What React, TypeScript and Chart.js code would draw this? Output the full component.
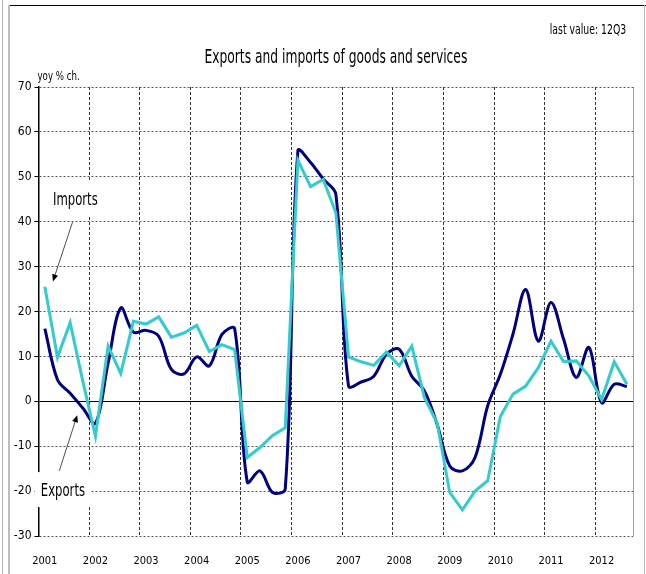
import React, { useEffect, useRef } from 'react';
import { Chart, registerables } from 'chart.js';

Chart.register(...registerables);

// ---- data ----
const years = ['2001', '2002', '2003', '2004', '2005', '2006', '2007', '2008', '2009', '2010', '2011', '2012'];
const quarterNames = ['Q1', 'Q2', 'Q3', 'Q4'];
const categories = years.flatMap((y) => quarterNames.map((q) => y + q)).slice(0, 47);

const exportsYoY = [
  16.2, 4.8, 1.8, -1.5, -4.9, 8.5, 20.8, 15.4,
  15.8, 14.5, 7.1, 6.1, 9.9, 7.9, 14.9, 16.2,
  -18.0, -15.5, -20.3, -19.5, 55.8, 53.2, 49.5, 46.1,
  3.4, 4.3, 5.6, 10.5, 11.6, 5.6, 2.3, -5.1,
  -14.4, -15.5, -12.5, -1.0, 6.0, 15.0, 24.9, 13.4,
  22.0, 13.8, 5.3, 12.0, -0.3, 3.8, 3.3,
];

const importsYoY = [
  25.5, 9.8, 17.5, 4.5, -7.8, 12.3, 6.2, 17.8,
  17.2, 18.8, 14.3, 15.2, 16.9, 11.1, 12.6, 11.5,
  -12.5, -10.3, -7.6, -5.9, 53.7, 47.8, 49.4, 42.0,
  9.9, 8.8, 8.0, 11.0, 7.9, 12.3, 0.8, -4.8,
  -20.3, -24.2, -20.0, -17.7, -3.4, 1.6, 3.4, 7.5,
  13.4, 8.8, 9.0, 5.6, 0.4, 8.8, 3.8,
];

const yMin = -30;
const yMax = 70;
const yStep = 10;

const titleText = 'Exports and imports of goods and services';
const lastValueText = 'last value: 12Q3';
const unitText = 'yoy % ch.';
const importsLabel = 'Imports';
const exportsLabel = 'Exports';

const FAMILY = "'Liberation Sans Narrow', 'Arial Narrow', 'DejaVu Sans Condensed', 'Liberation Sans', sans-serif";

// annotation anchors in (category index, value) space
const callouts = [
  { label: importsLabel, text: [2.41, 44.8], from: [2.19, 39.9], to: [0.64, 26.7] },
  { label: exportsLabel, text: [1.43, -20.0], from: [1.14, -15.5], to: [2.56, -3.1] },
];

function squeezedText(ctx: CanvasRenderingContext2D, text: string, x: number, y: number, align: CanvasTextAlign, sx: number) {
  ctx.save();
  ctx.translate(x, y);
  ctx.scale(sx, 1);
  ctx.textAlign = align;
  ctx.textBaseline = 'middle';
  ctx.fillText(text, 0, 0);
  ctx.restore();
}

const textPlugin = {
  id: 'textPlugin',
  afterDraw(chart: any) {
    const { ctx, chartArea, scales } = chart;
    const xs = scales.x;
    const ys = scales.y;
    ctx.save();
    ctx.fillStyle = '#000';
    ctx.font = `19px ${FAMILY}`;
    squeezedText(ctx, titleText, (chartArea.left + chartArea.right) / 2, chartArea.top - 29, 'center', 0.72);
    ctx.font = `14px ${FAMILY}`;
    squeezedText(ctx, lastValueText, chartArea.right - 7, chartArea.top - 57, 'right', 0.74);
    ctx.font = `13px ${FAMILY}`;
    squeezedText(ctx, unitText, chartArea.left - 1, chartArea.top - 10, 'left', 0.74);

    ctx.font = `18px ${FAMILY}`;
    const sq = 0.72;
    for (const c of callouts) {
      const tx = xs.getPixelForValue(c.text[0]);
      const ty = ys.getPixelForValue(c.text[1]);
      const w = ctx.measureText(c.label).width * sq;
      ctx.fillStyle = '#fff';
      ctx.fillRect(tx - w / 2 - 6, ty - 19, w + 12, 35);
      ctx.fillStyle = '#000';
      squeezedText(ctx, c.label, tx, ty, 'center', sq);

      const x1 = xs.getPixelForValue(c.from[0]);
      const y1 = ys.getPixelForValue(c.from[1]);
      const x2 = xs.getPixelForValue(c.to[0]);
      const y2 = ys.getPixelForValue(c.to[1]);
      const ang = Math.atan2(y2 - y1, x2 - x1);
      const headLen = 7;
      const headW = 3;
      ctx.strokeStyle = '#222';
      ctx.lineWidth = 0.8;
      ctx.beginPath();
      ctx.moveTo(x1, y1);
      ctx.lineTo(x2 - Math.cos(ang) * headLen * 0.8, y2 - Math.sin(ang) * headLen * 0.8);
      ctx.stroke();
      ctx.fillStyle = '#000';
      ctx.beginPath();
      ctx.moveTo(x2, y2);
      ctx.lineTo(x2 - Math.cos(ang) * headLen + Math.sin(ang) * headW, y2 - Math.sin(ang) * headLen - Math.cos(ang) * headW);
      ctx.lineTo(x2 - Math.cos(ang) * headLen - Math.sin(ang) * headW, y2 - Math.sin(ang) * headLen + Math.cos(ang) * headW);
      ctx.closePath();
      ctx.fill();
    }
    ctx.restore();
  },
};

export default function App() {
  const canvasRef = useRef<HTMLCanvasElement | null>(null);

  useEffect(() => {
    if (!canvasRef.current) return;
    const chart = new Chart(canvasRef.current, {
      type: 'line',
      data: {
        labels: categories,
        datasets: [
          {
            label: 'Exports',
            data: exportsYoY,
            borderColor: '#000080',
            borderWidth: 3,
            tension: 0.35,
            pointRadius: 0,
            fill: false,
            order: 2,
          },
          {
            label: 'Imports',
            data: importsYoY,
            borderColor: '#33CCCC',
            borderWidth: 3,
            tension: 0,
            pointRadius: 0,
            fill: false,
            order: 1,
          },
        ],
      },
      options: {
        animation: false,
        responsive: false,
        maintainAspectRatio: false,
        layout: { padding: { top: 87, right: 10, left: 0, bottom: 0 } },
        plugins: {
          legend: { display: false },
          tooltip: { enabled: false },
          title: { display: false },
        },
        elements: { point: { radius: 0 }, line: { capBezierPoints: true } },
        scales: {
          x: {
            type: 'category',
            offset: true,
            grid: {
              offset: true,
              drawTicks: false,
              lineWidth: 1,
              color: (c: any) =>
                c.index === undefined
                  ? '#a0a0a0'
                  : c.index > 0 && c.index % 4 === 0
                  ? '#333'
                  : 'rgba(0,0,0,0)',
            },
            border: {
              display: false,
              dash: (c: any) => (c.index === undefined ? [] : [3, 2]),
            },
            ticks: {
              autoSkip: false,
              maxRotation: 0,
              minRotation: 0,
              padding: 19,
              color: '#000',
              font: { family: FAMILY, size: 11 },
              callback: (_v: any, i: number) => (i % 4 === 0 ? categories[i].slice(0, 4) : ''),
            },
            afterFit: (s: any) => {
              s.height = 38;
            },
          },
          y: {
            min: yMin,
            max: yMax,
            ticks: {
              stepSize: yStep,
              color: '#000',
              padding: 3,
              font: { family: FAMILY, size: 12 },
            },
            grid: {
              lineWidth: 1,
              tickLength: 4,
              drawTicks: true,
              tickColor: '#000',
              color: (c: any) => (c.tick && c.tick.value === 0 ? '#000' : '#555'),
            },
            border: {
              display: true,
              color: '#000',
              width: 1.5,
              dash: (c: any) => (c.tick && c.tick.value === 0 ? [] : [2, 2]),
            },
            afterFit: (s: any) => {
              s.width = 38.5;
            },
          },
        },
      },
      plugins: [textPlugin],
    } as any);
    return () => chart.destroy();
  }, []);

  const line = (style: React.CSSProperties) => <div style={{ position: 'absolute', ...style }} />;

  return (
    <div style={{ position: 'absolute', left: 0, top: 0, width: 646, height: 574, background: '#fff', overflow: 'hidden' }}>
      <canvas ref={canvasRef} width={646} height={574} style={{ position: 'absolute', left: 0, top: 0, display: 'block' }} />
      {line({ left: 2, top: 0, width: 1, height: 574, background: '#b4b4b4' })}
      {line({ left: 8, top: 5, width: 2, height: 569, background: '#bdbdbd' })}
      {line({ left: 10, top: 5, width: 636, height: 1, background: '#000' })}
      {line({ left: 644, top: 5, width: 1, height: 569, background: '#b4b4b4' })}
    </div>
  );
}
